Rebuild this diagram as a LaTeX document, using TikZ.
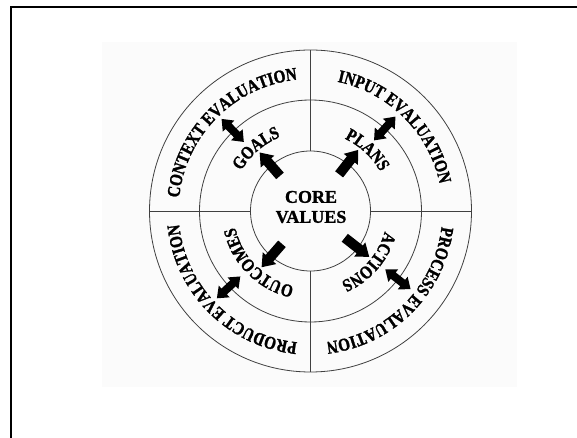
\documentclass[tikz,border=0pt]{standalone}
\usepackage{fontspec}
\setmainfont{Liberation Serif}
\newfontfamily\ringfamily[FakeStretch=0.84, BoldFeatures={FakeBold=1.5}]{Liberation Serif}
\newfontfamily\corefamily[BoldFeatures={FakeBold=1.2}]{Liberation Serif}
\usetikzlibrary{decorations.text}

\newcommand{\OUTFONT}{\ringfamily\bfseries\fontsize{18}{20}\selectfont}
\newcommand{\CORFONT}{\corefamily\bfseries\fontsize{18}{20}\selectfont}

\tikzset{
    RING/.style={draw=black!75, shape=circle, line width=0.8pt,
        inner sep=0pt, outer sep=0pt},
    DIVIDER/.style={draw=black!75, line width=0.8pt},
    ONE_ARROW/.pic={\fill (-15.5,-5) -- (3.5,-5) -- (3.5,-9) -- (15.5,0)
        -- (3.5,9) -- (3.5,5) -- (-15.5,5) -- cycle;},
    TWO_ARROW/.pic={\fill (-16,0) -- (-6,8) -- (-6,4) -- (6,4) -- (6,8) -- (16,0)
        -- (6,-8) -- (6,-4) -- (-6,-4) -- (-6,-8) -- cycle;},
    RING_TEXT/.style={decorate, decoration={text along path,
        text align=center, text={|\OUTFONT|#1}}},
    FRAME/.style={draw=black, line width=2pt}
}
\pgfdeclarelayer{backlayer}
\pgfdeclarelayer{edgelayer}
\pgfdeclarelayer{nodelayer}
\pgfsetlayers{backlayer,edgelayer,nodelayer,main}

\begin{document}
\begin{tikzpicture}[x=1pt, y=1pt]
    \useasboundingbox (0,0) rectangle (577,438);
    \begin{pgfonlayer}{backlayer}
        \fill[black!1.5] (102,51) rectangle (517,396);
        \draw[FRAME] (11,0) -- (11,431.3) -- (577,431.3);
    \end{pgfonlayer}
    \begin{scope}[shift={(310.5,227)}]
    \begin{pgfonlayer}{nodelayer}
        \node [RING, minimum size=120pt] (1) at (0,0) {};
        \node [RING, minimum size=222pt] (2) at (0,0) {};
        \node [RING, minimum size=322pt] (3) at (0,0) {};
        \node [font=\CORFONT, align=center] (0) at (0.5,4) {CORE\\VALUES};
        % arrows from the core
        \pic [rotate=131] at (131:62) {ONE_ARROW};
        \pic [rotate=52] at (52:62) {ONE_ARROW};
        \pic [rotate=-38] at (-38:59) {ONE_ARROW};
        \pic [rotate=-131] at (-131:59) {ONE_ARROW};
        % arrows across the middle ring
        \pic [rotate=134] at (134:112) {TWO_ARROW};
        \pic [rotate=48] at (48:111) {TWO_ARROW};
        \pic [rotate=-38] at (-38:111) {TWO_ARROW};
        \pic [rotate=-137] at (-137:112) {TWO_ARROW};
    \end{pgfonlayer}
    \begin{pgfonlayer}{edgelayer}
        \draw[DIVIDER] (1.north) to (3.north);
        \draw[DIVIDER] (1.south) to (3.south);
        \draw[DIVIDER] (1.west) to (3.west);
        \draw[DIVIDER] (1.east) to (3.east);
    \end{pgfonlayer}
    % texts round the rings
    \path[RING_TEXT={GOALS}] (181:80) arc[start angle=181, end angle=81, radius=80];
    \path[RING_TEXT={PLANS}] (97:80) arc[start angle=97, end angle=-3, radius=80];
    \path[RING_TEXT={ACTIONS}] (9:77) arc[start angle=9, end angle=-91, radius=77];
    \path[RING_TEXT={OUTCOMES}] (-85:77) arc[start angle=-85, end angle=-185, radius=77];
    \path[RING_TEXT={CONTEXT EVALUATION}] (185:132) arc[start angle=185, end angle=85, radius=132];
    \path[RING_TEXT={INPUT EVALUATION}] (95:132) arc[start angle=95, end angle=-5, radius=132];
    \path[RING_TEXT={PROCESS EVALUATION}] (5:132) arc[start angle=5, end angle=-95, radius=132];
    \path[RING_TEXT={PRODUCT EVALUATION}] (-85:132) arc[start angle=-85, end angle=-185, radius=132];
    \end{scope}
\end{tikzpicture}
\end{document}
